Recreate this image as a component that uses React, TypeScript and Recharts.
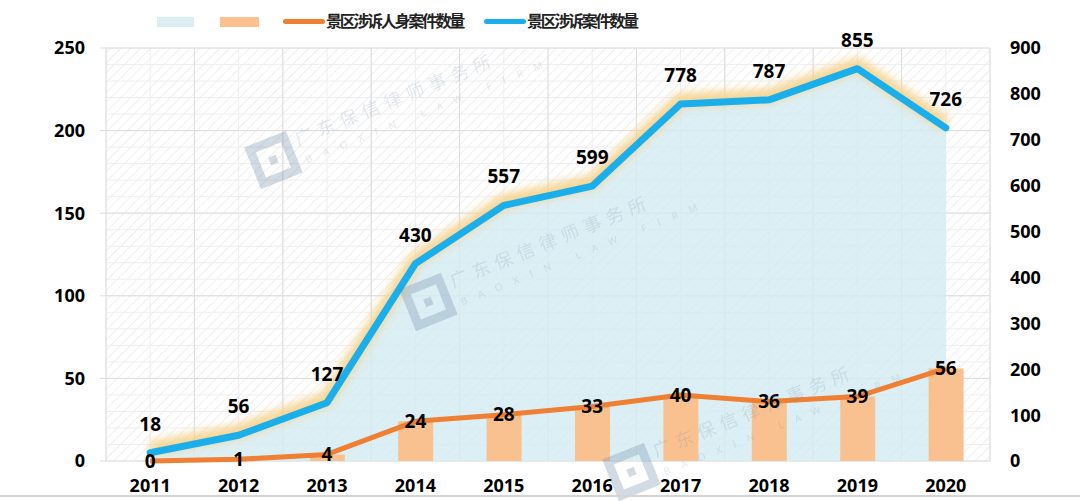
import React from "react";
import {
  ComposedChart,
  Area,
  Bar,
  Line,
  XAxis,
  YAxis,
  CartesianGrid,
  LabelList,
} from "recharts";

// 年份 / 景区涉诉案件数量 (right axis) / 景区涉诉人身案件数量 (left axis)
const years = ["2011", "2012", "2013", "2014", "2015", "2016", "2017", "2018", "2019", "2020"];
const totalCases = [18, 56, 127, 430, 557, 599, 778, 787, 855, 726];
const injuryCases = [0, 1, 4, 24, 28, 33, 40, 36, 39, 56];
const leftTicks = [0, 50, 100, 150, 200, 250];
const rightTicks = [0, 100, 200, 300, 400, 500, 600, 700, 800, 900];

const data = years.map((y, i) => ({
  year: y,
  total: totalCases[i],
  injury: injuryCases[i],
}));

const FONT = "'Noto Sans', 'Noto Sans CJK SC', sans-serif";
const BLUE = "#1AAFEB";
const ORANGE = "#EE7F33";
const BAR = "#F9C190";
const AREA = "#D3EBF3";

const tickStyle = { fontSize: 18, fontWeight: 700, fill: "#000", fontFamily: FONT };
const labelStyle = { fontSize: 19, fontWeight: 700, fill: "#000", fontFamily: FONT };

// grid helpers: minor lines every 10 units / half band, major every 50 units / band
const minorH = ({ offset }: any) => Array.from({ length: 26 }, (_, k) => offset.top + (offset.height * k) / 25);
const majorH = ({ offset }: any) => Array.from({ length: 6 }, (_, k) => offset.top + (offset.height * k) / 5);
const minorV = ({ offset }: any) => Array.from({ length: 21 }, (_, k) => offset.left + (offset.width * k) / 20);
const majorV = ({ offset }: any) => Array.from({ length: 11 }, (_, k) => offset.left + (offset.width * k) / 10);

function LegendBar() {
  const text: React.CSSProperties = {
    position: "absolute",
    top: 9,
    fontSize: 16,
    fontWeight: 700,
    letterSpacing: -2.3,
    color: "#222",
    fontFamily: FONT,
    lineHeight: "24px",
  };
  return (
    <>
      <div style={{ position: "absolute", left: 157, top: 17, width: 37, height: 10, background: "#DAEEF3" }} />
      <div style={{ position: "absolute", left: 220, top: 17, width: 39, height: 10, background: "#FBC28F" }} />
      <div style={{ position: "absolute", left: 283, top: 19, width: 42, height: 5, borderRadius: 3, background: ORANGE }} />
      <div style={{ ...text, left: 326 }}>景区涉诉人身案件数量</div>
      <div style={{ position: "absolute", left: 484, top: 19, width: 42, height: 5, borderRadius: 3, background: BLUE }} />
      <div style={{ ...text, left: 527 }}>景区涉诉案件数量</div>
    </>
  );
}

// faint firm watermarks
const marks = [
  { x: 250, y: 150 },
  { x: 405, y: 292 },
  { x: 608, y: 462 },
];

function Watermarks() {
  return (
    <svg width={1080} height={501} style={{ position: "absolute", left: 0, top: 0, pointerEvents: "none" }}>
      {marks.map((m, i) => (
        <g key={i} transform={`translate(${m.x},${m.y}) rotate(-22)`}>
          <g opacity={0.3}>
            <rect x={0} y={0} width={36} height={36} fill="none" stroke="#6d8aa8" strokeWidth={9} />
            <rect x={14} y={14} width={8} height={8} fill="#6d8aa8" />
          </g>
          <g opacity={0.18}>
            <text x={46} y={14} fontSize={18} fill="#6d8aa8" fontFamily="'Noto Sans CJK SC', sans-serif" letterSpacing={6}>
              广东保信律师事务所
            </text>
            <text x={48} y={34} fontSize={10} fill="#6d8aa8" fontFamily={FONT} letterSpacing={12}>
              BAOXIN LAW FIRM
            </text>
          </g>
        </g>
      ))}
    </svg>
  );
}

export default function App() {
  return (
    <div style={{ position: "absolute", left: 0, top: 0, width: 1080, height: 501, background: "#fff", overflow: "hidden" }}>
      <LegendBar />
      <ComposedChart
        width={1080}
        height={501}
        data={data}
        margin={{ top: 48, right: 0, bottom: 0, left: 0 }}
      >
        <defs>
          <pattern id="hatch" width="7" height="7" patternUnits="userSpaceOnUse" patternTransform="rotate(45)">
            <rect width="7" height="7" fill="#fff" />
            <line x1="0" y1="0" x2="0" y2="7" stroke="#efefef" strokeWidth="2" />
          </pattern>
          <filter id="glow" x="-10%" y="-50%" width="120%" height="200%">
            <feGaussianBlur stdDeviation="4" />
            <feOffset dy="-4" />
          </filter>
        </defs>
        <CartesianGrid
          yAxisId="left"
          fill="url(#hatch)"
          stroke="#eeeeee"
          horizontalCoordinatesGenerator={minorH}
          verticalCoordinatesGenerator={minorV}
        />
        <CartesianGrid
          yAxisId="left"
          stroke="#dcdcdc"
          horizontalCoordinatesGenerator={majorH}
          verticalCoordinatesGenerator={majorV}
        />
        <XAxis
          dataKey="year"
          axisLine={false}
          tickLine={false}
          tickSize={0}
          tickMargin={18}
          height={40}
          tick={tickStyle}
          interval={0}
        />
        <YAxis
          yAxisId="left"
          domain={[0, 250]}
          ticks={leftTicks}
          width={106}
          axisLine={false}
          tickLine={{ stroke: "#dcdcdc" }}
          tickSize={6}
          tickMargin={15}
          tick={tickStyle}
        />
        <YAxis
          yAxisId="right"
          orientation="right"
          domain={[0, 900]}
          ticks={rightTicks}
          width={90}
          axisLine={false}
          tickLine={false}
          tickSize={0}
          tickMargin={20}
          tick={{ ...tickStyle, textAnchor: "start" }}
        />
        <Area
          yAxisId="right"
          dataKey="total"
          type="linear"
          stroke="none"
          fill={AREA}
          fillOpacity={0.8}
          isAnimationActive={false}
        />
        <Bar yAxisId="left" dataKey="injury" fill={BAR} barSize={35} isAnimationActive={false} />
        <Line
          yAxisId="right"
          dataKey="total"
          type="linear"
          stroke="#F5D18A"
          strokeWidth={14}
          strokeOpacity={0.9}
          filter="url(#glow)"
          dot={false}
          activeDot={false}
          legendType="none"
          isAnimationActive={false}
        />
        <Line
          yAxisId="right"
          dataKey="total"
          type="linear"
          stroke={BLUE}
          strokeWidth={7}
          strokeLinejoin="round"
          strokeLinecap="round"
          dot={false}
          activeDot={false}
          isAnimationActive={false}
        >
          <LabelList dataKey="total" position="top" offset={22} style={labelStyle} />
        </Line>
        <Line
          yAxisId="left"
          dataKey="injury"
          type="linear"
          stroke={ORANGE}
          strokeWidth={5}
          strokeLinejoin="round"
          dot={false}
          activeDot={false}
          isAnimationActive={false}
        >
          <LabelList dataKey="injury" position="center" style={labelStyle} />
        </Line>
      </ComposedChart>
      <Watermarks />
      <div style={{ position: "absolute", left: 0, top: 495, width: 1080, height: 2, background: "#d4d4d4" }} />
    </div>
  );
}
